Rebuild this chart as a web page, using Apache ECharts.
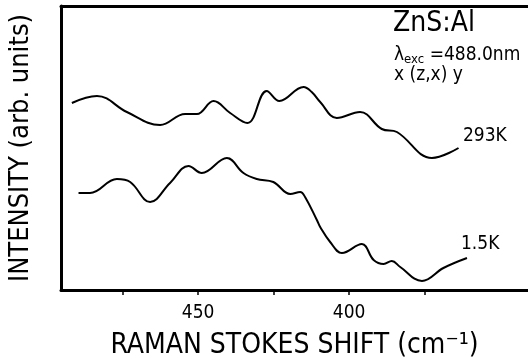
<!DOCTYPE html>
<html>
<head>
<meta charset="utf-8">
<script src="https://cdn.jsdelivr.net/npm/echarts@6/dist/echarts.min.js"></script>
<style>
  html, body { margin: 0; padding: 0; background: #fff; }
  #main { width: 528px; height: 362px; }
</style>
</head>
<body>
<div id="main"></div>
<script>
// Raman shift (cm-1) and intensity (arb. units)
var shift293 = [491.8, 483.5, 473.6, 462.6, 454.3, 450.4, 444.9, 439.4, 433.7, 427.3, 423.1, 415.1, 412.4, 409.6, 404.1, 396.4, 389.2, 384.2, 372.6, 363.8];
var int293   = [187, 194, 178, 165, 176, 176, 189, 177, 167, 199, 189, 203, 198, 188, 172, 178, 161, 158, 132, 142];

var shift15 = [489.6, 485.8, 476.9, 472.5, 465.9, 459.3, 453.2, 448.8, 440.5, 435.0, 430.6, 425.1, 419.5, 416.2, 414.6, 410.7, 409.6, 406.3, 402.4, 395.8, 391.9, 388.6, 385.9, 383.1, 375.9, 368.8, 361.0];
var int15   = [97, 97, 111, 108, 88, 107, 124, 117, 132, 117, 111, 108, 96, 98, 93, 70, 63, 48, 37, 46, 30, 26, 29, 23, 9, 22, 32];

var tickValues = [475, 450, 425, 400, 375];
var labelValues = [450, 400];

var fontFam = "'Liberation Sans Narrow', 'DejaVu Sans Condensed', 'Liberation Sans', sans-serif";

function pairs(xs, ys) {
    var out = [];
    for (var i = 0; i < xs.length; i++) {
        out.push([xs[i], ys[i]]);
    }
    return out;
}

var chart = echarts.init(document.getElementById('main'));
var option = {
    animation: false,
    grid: { left: 61, right: 0, top: 6, bottom: 72, outerBoundsMode: 'none', containLabel: false },
    xAxis: [{
        type: 'value',
        inverse: true,
        min: 340.8,
        max: 495.4,
        axisLine: { lineStyle: { color: '#000', width: 3 } },
        axisTick: { show: true, length: 5, customValues: tickValues, lineStyle: { color: '#000', width: 1.5 } },
        axisLabel: { customValues: labelValues, color: '#000', fontSize: 19, margin: 14, fontFamily: fontFam },
        splitLine: { show: false },
        name: 'RAMAN STOKES SHIFT (cm\u207B\u00B9)',
        nameLocation: 'middle',
        nameGap: 42,
        nameTextStyle: { color: '#000', fontSize: 28, fontFamily: fontFam }
    }, {
        type: 'value',
        position: 'top',
        inverse: true,
        min: 340.8,
        max: 495.4,
        axisLine: { show: true, lineStyle: { color: '#000', width: 3 } },
        axisTick: { show: false },
        axisLabel: { show: false },
        splitLine: { show: false }
    }],
    yAxis: {
        type: 'value',
        min: 0,
        max: 284,
        axisLine: { show: true, lineStyle: { color: '#000', width: 3 } },
        axisTick: { show: false },
        axisLabel: { show: false },
        splitLine: { show: false },
        name: 'INTENSITY (arb. units)',
        nameLocation: 'middle',
        nameGap: 27,
        nameTextStyle: { color: '#000', fontSize: 27, fontFamily: fontFam }
    },
    graphic: [
        { type: 'text', left: 393, top: 10, style: { text: 'ZnS:Al', fill: '#000', font: '28px ' + fontFam } },
        { type: 'text', left: 394, top: 46, style: {
            text: '{a|\u03BB}{s|exc}{a| =488.0nm}',
            rich: {
                a: { fill: '#000', font: '19px ' + fontFam },
                s: { fill: '#000', font: '13px ' + fontFam, verticalAlign: 'bottom', padding: [8, 0, 0, 0] }
            }
        } },
        { type: 'text', left: 394, top: 66, style: { text: 'x (z,x) y', fill: '#000', font: '19px ' + fontFam } },
        { type: 'text', left: 463, top: 127, style: { text: '293K', fill: '#000', font: '19px ' + fontFam } },
        { type: 'text', left: 461, top: 235, style: { text: '1.5K', fill: '#000', font: '19px ' + fontFam } }
    ],
    series: [{
        name: '293K',
        type: 'line',
        smooth: 0.4,
        symbol: 'none',
        lineStyle: { color: '#000', width: 2 },
        data: pairs(shift293, int293)
    }, {
        name: '1.5K',
        type: 'line',
        smooth: 0.4,
        symbol: 'none',
        lineStyle: { color: '#000', width: 2 },
        data: pairs(shift15, int15)
    }]
};
chart.setOption(option);
</script>
</body>
</html>
